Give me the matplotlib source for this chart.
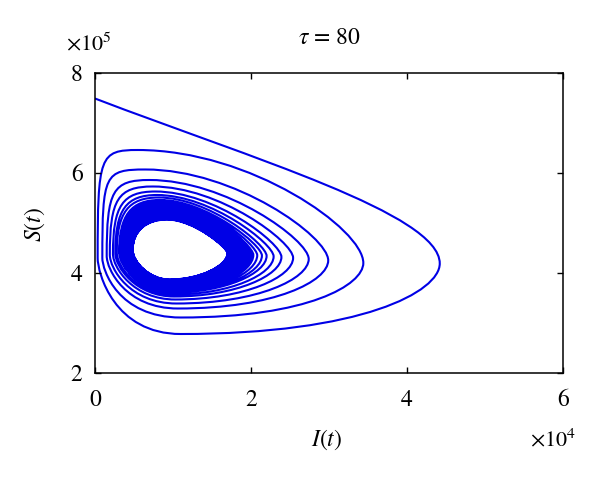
import matplotlib
matplotlib.use("Agg")
import matplotlib.pyplot as plt
from matplotlib.path import Path
from matplotlib.patches import PathPatch

# ---------------- data (axis units: I in 1e4, S in 1e5) ----------------
title_text = r"$\tau$ = 80"
x_ticks = [0, 2, 4, 6]
y_ticks = [2, 4, 6, 8]

# extreme values of each turn of the spiral trajectory
# top (max S) of each turn; turn 0 starts at I = 0, S = 7.49
top_S = [7.49, 6.46, 6.07, 5.86, 5.73, 5.63, 5.56, 5.51, 5.46,
         5.444, 5.428, 5.413, 5.398, 5.383, 5.369, 5.355, 5.342, 5.329, 5.316,
         5.304, 5.292, 5.280, 5.269, 5.258, 5.247, 5.237, 5.227, 5.217, 5.208,
         5.199, 5.190, 5.182, 5.174, 5.166, 5.158, 5.151, 5.144, 5.137, 5.130,
         5.124, 5.118, 5.112, 5.106, 5.100, 5.095, 5.090, 5.085, 5.080, 5.075,
         5.070]
# right extreme (max I) of each turn
right_I = [4.42, 3.44, 2.99, 2.74, 2.54, 2.39, 2.29, 2.20, 2.14, 2.08, 2.03,
           2.012, 1.995, 1.978, 1.962, 1.946, 1.931, 1.916, 1.902, 1.888,
           1.875, 1.862, 1.850, 1.838, 1.827, 1.816, 1.806, 1.796, 1.787,
           1.778, 1.770, 1.762, 1.755, 1.748, 1.742, 1.736, 1.731, 1.726,
           1.722, 1.718, 1.715, 1.712, 1.709, 1.707, 1.705, 1.703, 1.702,
           1.701, 1.700, 1.700]
# bottom (min S) of each turn
bot_S = [2.78, 3.11, 3.29, 3.39, 3.47, 3.53, 3.57, 3.61,
         3.621, 3.632, 3.642, 3.652, 3.662, 3.672, 3.681, 3.690, 3.699, 3.708,
         3.716, 3.724, 3.732, 3.740, 3.747, 3.754, 3.761, 3.768, 3.774, 3.780,
         3.786, 3.792, 3.797, 3.802, 3.807, 3.812, 3.817, 3.821, 3.825, 3.829,
         3.833, 3.837, 3.841, 3.844, 3.847, 3.850, 3.853, 3.856, 3.859, 3.862,
         3.865, 3.868]
# left extreme (min I) of each turn
left_I = [0.034, 0.094, 0.15, 0.19, 0.23, 0.26, 0.28, 0.31,
          0.318, 0.326, 0.334, 0.342, 0.349, 0.356, 0.363, 0.370, 0.377, 0.383,
          0.389, 0.395, 0.401, 0.406, 0.411, 0.416, 0.421, 0.426, 0.430, 0.434,
          0.438, 0.442, 0.446, 0.449, 0.452, 0.455, 0.458, 0.461, 0.464, 0.466,
          0.468, 0.470, 0.472, 0.474, 0.476, 0.477, 0.478, 0.479, 0.480, 0.481,
          0.482, 0.483]

# where the extremes sit along the other coordinate (outer turn, inner cycle)
top_I_pos = (0.55, 0.92)
right_S_pos = (4.20, 4.40)
bot_I_pos = (1.10, 0.96)
left_S_pos = (4.30, 4.46)

# curve fullness of the four quarter arcs (outer turn, inner cycle)
arcA = ((0.50, 0.30), (0.45, 0.15))
arcB = ((0.40, 0.70), (0.50, 0.50))
arcC = ((0.80, 0.20), (0.55, 0.40))
arcD = ((0.95, 0.95), (0.62, 0.60))

line_color = "#0000e6"

# ---------------- figure ----------------
plt.rcParams["mathtext.fontset"] = "stix"
plt.rcParams["font.family"] = ["STIXGeneral", "DejaVu Serif"]

fig = plt.figure(figsize=(6.0, 4.94), dpi=100)
ax = fig.add_axes([95 / 600, 1 - 373 / 494, 468 / 600, 300 / 494])

n = len(right_I)
r_out, r_in = right_I[1], right_I[-1]


def mix(pair, w):
    return pair[0] + (pair[1] - pair[0]) * w


def mix2(pairs, w):
    return (mix((pairs[0][0], pairs[1][0]), w), mix((pairs[0][1], pairs[1][1]), w))


ws = [min(max((r_out - r) / (r_out - r_in), 0.0), 1.0) for r in right_I]

verts = []
codes = []
for k in range(n):
    w = ws[k]
    tS = top_S[k]
    tI = 0.0 if k == 0 else mix(top_I_pos, w)
    rI = right_I[k]
    rS = 4.19 if k == 0 else mix(right_S_pos, w)
    bS = bot_S[k]
    bI = mix(bot_I_pos, w)
    lI = left_I[k]
    lS = mix(left_S_pos, w)
    if k == 0:
        verts.append((tI, tS)); codes.append(Path.MOVETO)
        p1 = (0.45 * rI, rS + 0.64 * (tS - rS))
        p2 = (rI, rS + 0.30 * (tS - rS))
    else:
        a, b = mix2(arcA, w)
        p1 = (tI + a * (rI - tI), tS)
        p2 = (rI, rS + b * (tS - rS))
    verts += [p1, p2, (rI, rS)]; codes += [Path.CURVE4] * 3
    c, d = mix2(arcB, w)
    verts += [(rI, rS - c * (rS - bS)), (bI + d * (rI - bI), bS), (bI, bS)]
    codes += [Path.CURVE4] * 3
    e, f = mix2(arcC, w)
    verts += [(bI - e * (bI - lI), bS), (lI, lS - f * (lS - bS)), (lI, lS)]
    codes += [Path.CURVE4] * 3
    if k + 1 < n:
        w2 = ws[k + 1]
        tI2 = mix(top_I_pos, w2)
        tS2 = top_S[k + 1]
        g, h = mix2(arcD, w)
        verts += [(lI, lS + g * (tS2 - lS)), (tI2 - h * (tI2 - lI), tS2), (tI2, tS2)]
        codes += [Path.CURVE4] * 3

path = Path(verts, codes)
ax.add_patch(PathPatch(path, fill=False, edgecolor=line_color, lw=1.5))

ax.set_xlim(0, 6)
ax.set_ylim(2, 8)
ax.set_xticks(x_ticks)
ax.set_yticks(y_ticks)
ax.set_xticklabels([str(t) for t in x_ticks])
ax.set_yticklabels([str(t) for t in y_ticks])
ax.tick_params(direction="in", top=True, right=True, length=4, width=1,
               labelsize=17)
ax.tick_params(axis="x", pad=12)
ax.tick_params(axis="y", pad=9)
for s in ax.spines.values():
    s.set_linewidth(1.1)

fig.text(329 / 600, 1 - 38 / 494, title_text, ha="center", va="center", fontsize=17)
fig.text(327 / 600, 1 - 440 / 494, r"$I(t)$", ha="center", va="center", fontsize=17)
fig.text(35 / 600, 1 - 225 / 494, r"$S(t)$", ha="center", va="center", fontsize=17,
         rotation=90)
fig.text(89 / 600, 1 - 44 / 494, r"$\times10^{5}$", ha="center", va="center", fontsize=16)
fig.text(553 / 600, 1 - 440 / 494, r"$\times10^{4}$", ha="center", va="center", fontsize=16)

fig.savefig("out.png", dpi=100)
